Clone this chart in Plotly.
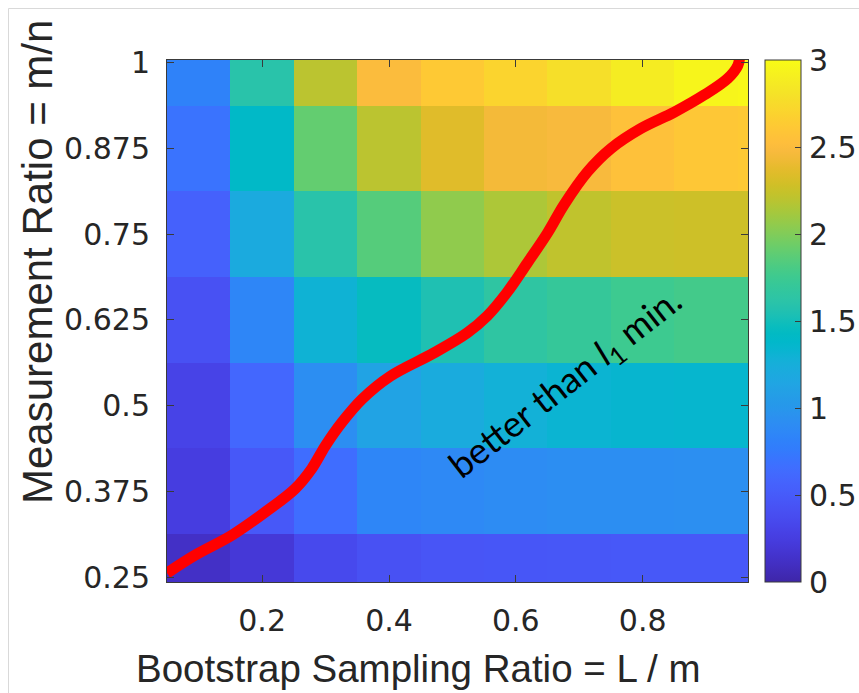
import plotly.graph_objects as go

# ---------------- data ----------------
x_ratio = [0.1, 0.2, 0.3, 0.4, 0.5, 0.6, 0.7, 0.8, 0.9, 1.0]
y_ratio = [0.25, 0.375, 0.5, 0.625, 0.75, 0.875, 1.0]
z_rows = [
    [0.12, 0.20, 0.35, 0.42, 0.45, 0.46, 0.47, 0.48, 0.48, 0.48],
    [0.25, 0.48, 0.65, 0.85, 0.88, 0.90, 0.92, 0.92, 0.93, 0.93],
    [0.30, 0.60, 0.92, 1.12, 1.22, 1.28, 1.32, 1.34, 1.35, 1.35],
    [0.42, 0.85, 1.30, 1.45, 1.55, 1.65, 1.70, 1.75, 1.78, 1.78],
    [0.55, 1.20, 1.60, 1.85, 2.05, 2.15, 2.22, 2.26, 2.27, 2.27],
    [0.70, 1.40, 1.90, 2.20, 2.35, 2.45, 2.48, 2.55, 2.60, 2.62],
    [0.82, 1.60, 2.20, 2.50, 2.62, 2.70, 2.78, 2.88, 2.95, 2.97],
]
curve_x = [0.05, 0.094, 0.152, 0.205, 0.252, 0.278, 0.300, 0.326, 0.358, 0.402,
           0.471, 0.523, 0.555, 0.586, 0.618, 0.650, 0.676, 0.713, 0.750, 0.797,
           0.850, 0.897, 0.934, 0.950, 0.953]
curve_y = [0.256, 0.282, 0.311, 0.345, 0.379, 0.408, 0.442, 0.476, 0.510, 0.543,
           0.577, 0.606, 0.631, 0.665, 0.708, 0.752, 0.793, 0.841, 0.875, 0.904,
           0.928, 0.953, 0.977, 0.996, 1.01]
x_ticks = [0.2, 0.4, 0.6, 0.8]
x_ticklabels = ["0.2", "0.4", "0.6", "0.8"]
y_ticks = [0.25, 0.375, 0.5, 0.625, 0.75, 0.875, 1.0]
y_ticklabels = ["0.25", "0.375", "0.5", "0.625", "0.75", "0.875", "1"]
cb_ticks = [0, 0.5, 1, 1.5, 2, 2.5, 3]
cb_ticklabels = ["0", "0.5", "1", "1.5", "2", "2.5", "3"]
z_min, z_max = 0, 3

# parula colormap (64 entries)
parula = [
    (0.2422, 0.1504, 0.6603), (0.2504, 0.1650, 0.7076), (0.2578, 0.1818, 0.7511),
    (0.2647, 0.1978, 0.7952), (0.2706, 0.2147, 0.8364), (0.2751, 0.2342, 0.8710),
    (0.2783, 0.2559, 0.8991), (0.2803, 0.2782, 0.9221), (0.2813, 0.3006, 0.9414),
    (0.2810, 0.3228, 0.9579), (0.2795, 0.3447, 0.9717), (0.2760, 0.3667, 0.9829),
    (0.2699, 0.3892, 0.9906), (0.2602, 0.4123, 0.9952), (0.2440, 0.4358, 0.9988),
    (0.2206, 0.4603, 0.9973), (0.1963, 0.4847, 0.9892), (0.1834, 0.5074, 0.9798),
    (0.1786, 0.5289, 0.9682), (0.1764, 0.5499, 0.9520), (0.1687, 0.5703, 0.9359),
    (0.1540, 0.5902, 0.9218), (0.1460, 0.6091, 0.9079), (0.1380, 0.6276, 0.8973),
    (0.1248, 0.6459, 0.8883), (0.1113, 0.6635, 0.8763), (0.0952, 0.6798, 0.8598),
    (0.0689, 0.6948, 0.8394), (0.0297, 0.7082, 0.8163), (0.0036, 0.7203, 0.7917),
    (0.0067, 0.7312, 0.7660), (0.0433, 0.7411, 0.7394), (0.0964, 0.7500, 0.7120),
    (0.1408, 0.7584, 0.6842), (0.1717, 0.7670, 0.6554), (0.1938, 0.7758, 0.6251),
    (0.2161, 0.7843, 0.5923), (0.2470, 0.7918, 0.5567), (0.2906, 0.7973, 0.5188),
    (0.3406, 0.8008, 0.4789), (0.3909, 0.8029, 0.4354), (0.4456, 0.8024, 0.3909),
    (0.5044, 0.7993, 0.3480), (0.5616, 0.7942, 0.3045), (0.6174, 0.7876, 0.2612),
    (0.6720, 0.7793, 0.2227), (0.7242, 0.7698, 0.1910), (0.7738, 0.7598, 0.1646),
    (0.8203, 0.7498, 0.1535), (0.8634, 0.7406, 0.1596), (0.9035, 0.7330, 0.1774),
    (0.9393, 0.7288, 0.2100), (0.9728, 0.7298, 0.2394), (0.9956, 0.7434, 0.2371),
    (0.9970, 0.7659, 0.2199), (0.9952, 0.7893, 0.2028), (0.9892, 0.8136, 0.1885),
    (0.9786, 0.8386, 0.1766), (0.9676, 0.8639, 0.1643), (0.9610, 0.8890, 0.1537),
    (0.9597, 0.9135, 0.1423), (0.9628, 0.9373, 0.1265), (0.9691, 0.9606, 0.1064),
    (0.9769, 0.9839, 0.0805),
]
colorscale = [[i / (len(parula) - 1),
               "rgb(%d,%d,%d)" % tuple(round(c * 255) for c in rgb)]
              for i, rgb in enumerate(parula)]

# ---------------- geometry (window pixels; body margin removed) ----------------
W, H = 859, 693
PLOT_L, PLOT_R, PLOT_T, PLOT_B = 167, 748, 60, 582
ML, MR, MT, MB = PLOT_L, W - PLOT_R, PLOT_T, H - PLOT_B
PW = W - ML - MR
PH = H - MT - MB
CB_L, CB_W = 765, 36

def px_to_paper_x(px):
    return (px - PLOT_L) / PW

def px_to_paper_y(py):
    return (PLOT_B - py) / PH

TICKFONT = "DejaVu Sans, sans-serif"
FONT = "Liberation Sans, Arial, sans-serif"
TXT = "#262626"
AX = "#3a3a3a"

fig = go.Figure()
fig.add_trace(go.Heatmap(
    x=x_ratio, y=y_ratio, z=z_rows,
    zmin=z_min, zmax=z_max, colorscale=colorscale,
    hoverinfo="skip",
    colorbar=dict(
        x=px_to_paper_x(CB_L), xanchor="left", xpad=0,
        y=0.5, yanchor="middle", len=1.0, lenmode="fraction", ypad=0,
        thickness=CB_W, thicknessmode="pixels",
        outlinewidth=1, outlinecolor=AX,
        tickmode="array", tickvals=cb_ticks, ticktext=cb_ticklabels,
        ticks="inside", ticklen=6, tickcolor=AX, showticklabels=False,
    ),
))
fig.add_trace(go.Scatter(
    x=curve_x, y=curve_y, mode="lines",
    line=dict(color="#ff0000", width=11, shape="spline", smoothing=1.0),
    hoverinfo="skip", showlegend=False,
))

fig.update_xaxes(
    range=[0.05, 0.966], tickmode="array", tickvals=x_ticks, ticktext=x_ticklabels,
    ticks="inside", ticklen=7, tickcolor=AX, showline=True, linecolor=AX, linewidth=1,
    mirror="ticks", showgrid=False, zeroline=False,
    tickfont=dict(family=TICKFONT, size=30, color=TXT), ticklabelstandoff=12,
)
fig.update_yaxes(
    range=[0.243, 1.004], tickmode="array", tickvals=y_ticks, ticktext=y_ticklabels,
    ticks="inside", ticklen=7, tickcolor=AX, showline=True, linecolor=AX, linewidth=1,
    mirror="ticks", showgrid=False, zeroline=False,
    tickfont=dict(family=TICKFONT, size=30, color=TXT), ticklabelstandoff=10,
)

# colour-bar tick labels (drawn as text so the bar does not push the margins)
for v, lab in zip(cb_ticks, cb_ticklabels):
    fig.add_annotation(
        text=lab, xref="paper", yref="paper",
        x=px_to_paper_x(CB_L + CB_W + 6), y=(v - z_min) / (z_max - z_min),
        xanchor="left", yanchor="middle", showarrow=False,
        font=dict(family=TICKFONT, size=30, color=TXT),
    )

fig.add_annotation(
    text="Bootstrap Sampling Ratio = L / m", xref="paper", yref="paper",
    x=px_to_paper_x(418), y=px_to_paper_y(668), xanchor="center", yanchor="middle",
    showarrow=False, font=dict(family=FONT, size=38.5, color=TXT),
)
fig.add_annotation(
    text="Measurement Ratio = m/n", xref="paper", yref="paper",
    x=px_to_paper_x(37), y=px_to_paper_y(262), xanchor="center", yanchor="middle",
    textangle=-90, showarrow=False, font=dict(family=FONT, size=42, color=TXT),
)
fig.add_annotation(
    text="better than <i>l</i><sub>1</sub> min.", xref="x", yref="y",
    x=0.679, y=0.533, xanchor="center", yanchor="middle",
    textangle=-38, showarrow=False, font=dict(family="Lato, sans-serif", size=36, color="#000000"),
)

# light frame of the original screenshot (window x = 8 and y = 8)
fig.add_shape(type="line", xref="paper", yref="paper",
              x0=px_to_paper_x(8.5), x1=px_to_paper_x(8.5),
              y0=px_to_paper_y(693), y1=px_to_paper_y(8.5),
              line=dict(color="#d9d9d9", width=1), layer="below")
fig.add_shape(type="line", xref="paper", yref="paper",
              x0=px_to_paper_x(8.5), x1=px_to_paper_x(859),
              y0=px_to_paper_y(8.5), y1=px_to_paper_y(8.5),
              line=dict(color="#d9d9d9", width=1), layer="below")

fig.update_layout(
    width=W, height=H,
    margin=dict(l=ML, r=MR, t=MT, b=MB, pad=0),
    paper_bgcolor="white", plot_bgcolor="white",
    showlegend=False,
)

fig.write_html(
    "out.html",
    config={"displayModeBar": False},
    post_script="document.body.style.margin='0px';document.body.style.overflow='hidden';",
)
